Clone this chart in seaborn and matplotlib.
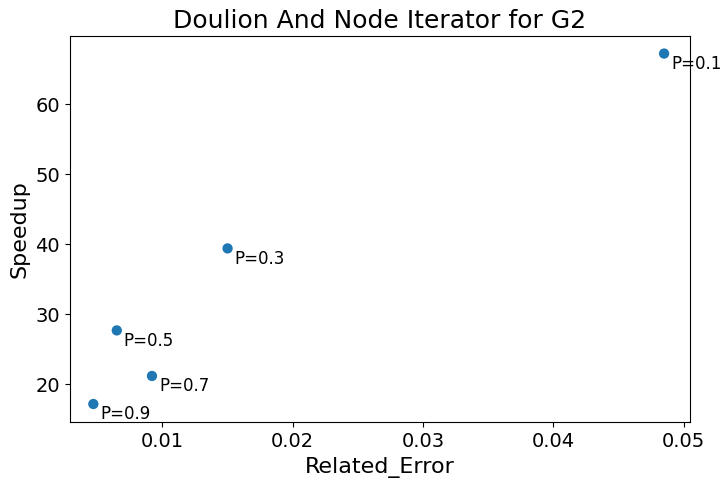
import matplotlib
matplotlib.use("Agg")
import matplotlib.pyplot as plt
import seaborn as sns
import pandas as pd

errors = [0.0485, 0.0150, 0.0065, 0.0092, 0.0047]
speedups = [67.2, 39.4, 27.7, 21.2, 17.2]
labels = ["P=0.1", "P=0.3", "P=0.5", "P=0.7", "P=0.9"]

df = pd.DataFrame({"Related_Error": errors, "Speedup": speedups, "label": labels})

fig = plt.figure(figsize=(7.28, 4.87), dpi=100)
ax = fig.add_axes([0.096, 0.133, 0.852, 0.793])
sns.scatterplot(data=df, x="Related_Error", y="Speedup", ax=ax, color="#1f77b4",
                s=55, edgecolor="none")
for x, y, t in zip(errors, speedups, labels):
    ax.annotate(t, (x, y), xytext=(5, -11), textcoords="offset points", fontsize=12)
ax.set_title("Doulion And Node Iterator for G2", fontsize=18)
ax.set_xlabel("Related_Error", fontsize=16)
ax.set_ylabel("Speedup", fontsize=16)
ax.tick_params(labelsize=14)
ax.set_xticks([0.01, 0.02, 0.03, 0.04, 0.05])
ax.set_yticks([20, 30, 40, 50, 60])
ax.set_xlim(0.0029, 0.0505)
ax.set_ylim(14.6, 69.7)
fig.savefig("out.png", dpi=100)
